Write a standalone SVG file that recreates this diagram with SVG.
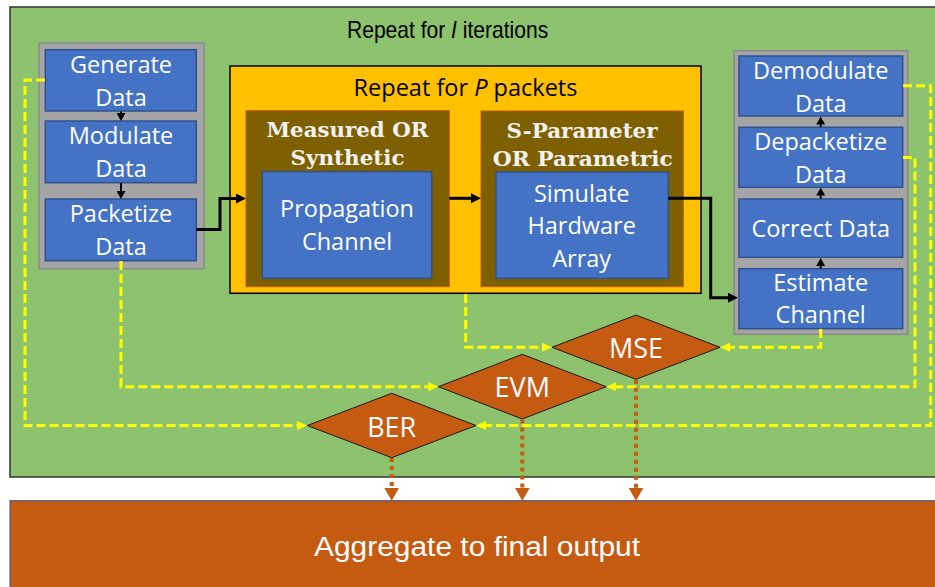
<svg xmlns="http://www.w3.org/2000/svg" width="935" height="587" viewBox="0 0 935 587">
<style>
.blue{fill:#4472C4;stroke:#2F528F;stroke-width:1.5}
.gray{fill:#A5A5A5;stroke:#8A8A8A;stroke-width:1.5}
.brown{fill:#7F6000;stroke:#C55A11;stroke-width:1}
.dia{fill:#C55A11;stroke:#1A1A1A;stroke-width:1}
.bt{font-family:"Open Sans","DejaVu Sans",sans-serif;font-size:23.5px;fill:#FFFFFF;text-anchor:middle}
.dt{font-family:"Open Sans","DejaVu Sans",sans-serif;font-size:27px;fill:#FFFFFF;text-anchor:middle}
.st{font-family:"DejaVu Serif","Liberation Serif",serif;font-weight:bold;font-size:21px;fill:#F2F2F2;text-anchor:middle}
.ttl{font-family:"Liberation Sans",Arial,sans-serif;font-size:24px;fill:#000000}
.blk{fill:none;stroke:#000000;stroke-width:3}
.blks{fill:none;stroke:#000000;stroke-width:2}
.yel{fill:none;stroke:#FFFF00;stroke-width:3;stroke-dasharray:9 4}
.org{fill:none;stroke:#C55A11;stroke-width:4;stroke-dasharray:4 4}
</style>
<defs>
<marker id="ab" markerUnits="userSpaceOnUse" markerWidth="10" markerHeight="10" refX="4" refY="5" orient="auto"><path d="M0,0 L10,5 L0,10 z" fill="#000000"/></marker>
<marker id="as" markerUnits="userSpaceOnUse" markerWidth="8" markerHeight="9" refX="0" refY="4.5" orient="auto"><path d="M0,0 L8,4.5 L0,9 z" fill="#000000"/></marker>
<marker id="ay" markerUnits="userSpaceOnUse" markerWidth="10" markerHeight="9" refX="3" refY="4.5" orient="auto"><path d="M0,0 L10,4.5 L0,9 z" fill="#FFFF00"/></marker>
<marker id="ao" markerUnits="userSpaceOnUse" markerWidth="13" markerHeight="15" refX="3" refY="7.5" orient="auto"><path d="M0,0 L13,7.5 L0,15 z" fill="#C55A11"/></marker>
</defs>
<rect x="0" y="0" width="935" height="587" fill="#FFFFFF"/>
<g id="iterations">
<rect x="10" y="7" width="932" height="470" fill="#8DC26F" stroke="#333333" stroke-width="1.5"/>
<g transform="translate(347,38) scale(0.877,1)">
<text class="ttl" x="0" y="0">Repeat for</text>
<text class="ttl" x="118.7" y="0" font-style="italic">I</text>
<text class="ttl" x="132.1" y="0">iterations</text>
</g>
</g>
<g id="tx-group"><rect class="gray" x="39" y="43" width="165" height="225.7"/></g>
<g id="generate"><rect class="blue" x="45.3" y="49.7" width="151" height="61.3"/><text class="bt" x="121" y="73"><tspan x="121">Generate</tspan><tspan x="121" y="106">Data</tspan></text></g>
<g id="modulate"><rect class="blue" x="45.3" y="121" width="151" height="61.7"/><text class="bt" x="121" y="144"><tspan x="121">Modulate</tspan><tspan x="121" y="176.7">Data</tspan></text></g>
<g id="packetize"><rect class="blue" x="45.3" y="199" width="151" height="61.7"/><text class="bt" x="121" y="222"><tspan x="121">Packetize</tspan><tspan x="121" y="255">Data</tspan></text></g>
<g id="packets">
<rect x="230" y="66" width="471" height="227.3" fill="#FFC000" stroke="#000000" stroke-width="1.5"/>
<text x="465.5" y="95.7" font-family="'Open Sans','DejaVu Sans',sans-serif" font-size="23.5" fill="#000000" text-anchor="middle">Repeat for <tspan font-style="italic">P</tspan> packets</text>
</g>
<g id="measured">
<rect class="brown" x="246" y="110.7" width="203.3" height="176"/>
<text class="st" x="347.5" y="137.3" textLength="162" lengthAdjust="spacingAndGlyphs">Measured OR</text>
<text class="st" x="347.5" y="165" textLength="114" lengthAdjust="spacingAndGlyphs">Synthetic</text>
</g>
<g id="propagation"><rect class="blue" x="262.3" y="171.7" width="169.4" height="106.6"/><text class="bt" x="347" y="216.7"><tspan x="347">Propagation</tspan><tspan x="347" y="250">Channel</tspan></text></g>
<g id="sparam">
<rect class="brown" x="481" y="111" width="202.3" height="175.7"/>
<text class="st" x="582" y="138.3" textLength="151" lengthAdjust="spacingAndGlyphs">S-Parameter</text>
<text class="st" x="582.7" y="166" textLength="180" lengthAdjust="spacingAndGlyphs">OR Parametric</text>
</g>
<g id="hardware"><rect class="blue" x="496" y="172" width="172.3" height="106.3"/><text class="bt" x="581.7" y="201.7"><tspan x="581.7">Simulate</tspan><tspan x="581.7" y="234.3">Hardware</tspan><tspan x="581.7" y="266.7">Array</tspan></text></g>
<g id="rx-group"><rect class="gray" x="734" y="50.7" width="173.7" height="283.6"/></g>
<g id="demodulate"><rect class="blue" x="739" y="56" width="163.7" height="60"/><text class="bt" x="820.7" y="79"><tspan x="820.7">Demodulate</tspan><tspan x="820.7" y="111.7">Data</tspan></text></g>
<g id="depacketize"><rect class="blue" x="739" y="127.3" width="163.7" height="60"/><text class="bt" x="820.7" y="150"><tspan x="820.7">Depacketize</tspan><tspan x="820.7" y="183.3">Data</tspan></text></g>
<g id="correct"><rect class="blue" x="739" y="199" width="163.7" height="58.3"/><text class="bt" x="820.7" y="237.3">Correct Data</text></g>
<g id="estimate"><rect class="blue" x="739" y="268.7" width="163.7" height="60"/><text class="bt" x="820.7" y="291"><tspan x="820.7">Estimate</tspan><tspan x="820.7" y="323.3">Channel</tspan></text></g>
<g id="mse"><polygon class="dia" points="552,347.3 636,315 720,347.3 636,379.3"/><text class="dt" x="636" y="358.3">MSE</text></g>
<g id="evm"><polygon class="dia" points="438.3,386.7 522.3,354.3 606.3,386.7 522.3,419"/><text class="dt" x="522.3" y="397.3">EVM</text></g>
<g id="ber"><polygon class="dia" points="307.3,425.5 391.7,393.3 476,425.5 391.7,457.7"/><text class="dt" x="391.7" y="436.7">BER</text></g>
<g id="aggregate">
<rect x="10" y="500.7" width="932" height="90" fill="#C55A11" stroke="#2F528F" stroke-width="1"/>
<text x="477" y="556" font-family="'Liberation Sans',Arial,sans-serif" font-size="27" fill="#FFFFFF" text-anchor="middle" textLength="326" lengthAdjust="spacingAndGlyphs">Aggregate to final output</text>
</g>
<g id="connectors">
<path class="blks" d="M121,111.5 V113" marker-end="url(#as)"/>
<path class="blks" d="M121,183 V191" marker-end="url(#as)"/>
<path class="blks" d="M820.7,268.5 V266" marker-end="url(#as)"/>
<path class="blks" d="M820.7,198.8 V195.5" marker-end="url(#as)"/>
<path class="blks" d="M820.7,127 V124.5" marker-end="url(#as)"/>
<path class="blk" d="M196.3,229.5 H220 V198.5 H240" marker-end="url(#ab)"/>
<path class="blk" d="M449.3,198.3 H475" marker-end="url(#ab)"/>
<path class="blk" d="M668.3,198.3 H710.7 V297.7 H732" marker-end="url(#ab)"/>
<path class="yel" d="M45,80 H25 V425.5 H300" marker-end="url(#ay)"/>
<path class="yel" d="M121,261 V386.7 H431.3" marker-end="url(#ay)"/>
<path class="yel" d="M465.7,294 V347.3 H545" marker-end="url(#ay)"/>
<path class="yel" d="M820.7,329 V347.3 H727" marker-end="url(#ay)"/>
<path class="yel" d="M903,157.5 H915 V386.7 H613.3" marker-end="url(#ay)"/>
<path class="yel" d="M903,85.7 H930.7 V425.5 H483" marker-end="url(#ay)"/>
<path class="org" d="M391.7,458 V490.7" marker-end="url(#ao)"/>
<path class="org" d="M522.3,419.5 V490.7" marker-end="url(#ao)"/>
<path class="org" d="M636,379.8 V490.7" marker-end="url(#ao)"/>
</g>
</svg>
